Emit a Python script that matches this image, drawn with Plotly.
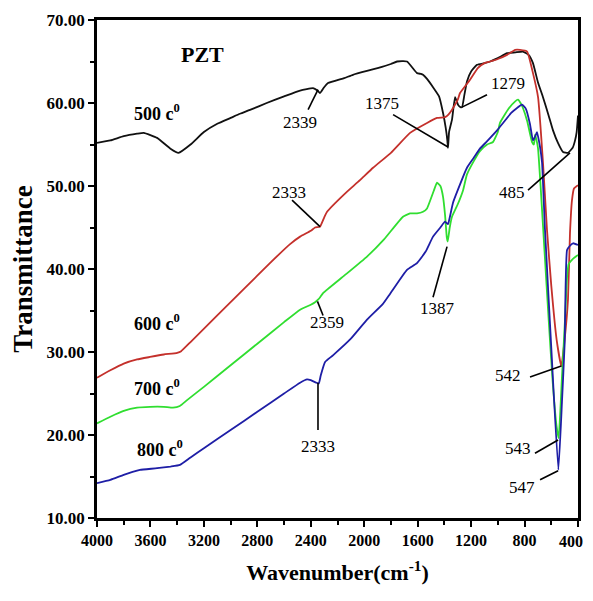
import plotly.graph_objects as go

# ---- data ----
wn_500 = [4000, 3900, 3800, 3700, 3650, 3550, 3450, 3390, 3300, 3200, 3100, 3000, 2930, 2850, 2730,
          2600, 2480, 2383, 2350, 2331, 2300, 2271, 2150, 2084, 1900, 1800, 1754, 1680, 1605, 1575,
          1560, 1530, 1485, 1440, 1410, 1390, 1378, 1373, 1365, 1343, 1320, 1298, 1280, 1268, 1250,
          1231, 1200, 1156, 1100, 1058, 1000, 931, 870, 812, 770, 737, 700, 662, 620, 587, 550,
          512, 475, 440, 422, 410, 400]
t_500 = [55.2, 55.5, 56.0, 56.3, 56.4, 55.8, 54.5, 54.0, 55.0, 56.5, 57.5, 58.2, 58.7, 59.2, 60.0,
         60.8, 61.5, 61.8, 61.5, 61.2, 61.9, 62.4, 63.0, 63.4, 64.2, 64.7, 65.0, 65.0, 63.6, 63.5,
         63.4, 62.9, 61.9, 60.8, 58.8, 57.0, 55.5, 54.6, 56.5, 58.0, 60.7, 59.8, 59.5, 59.5, 61.0,
         62.6, 63.8, 64.6, 64.8, 65.0, 65.4, 66.0, 66.1, 66.2, 65.8, 64.8, 62.5, 60.7, 58.5, 56.7, 55.2,
         54.1, 54.0, 54.6, 55.5, 56.5, 58.5]

wn_600 = [4000, 3900, 3800, 3700, 3603, 3500, 3400, 3370, 3300, 3100, 2900, 2700, 2555, 2480, 2400,
          2368, 2331, 2300, 2278, 2150, 2032, 1934, 1800, 1657, 1530, 1455, 1395, 1370, 1343, 1300,
          1283, 1208, 1150, 1100, 1058, 1000, 931, 870, 834, 781, 737, 699, 662, 632, 600, 560,
          525, 500, 475, 460, 445, 430, 400]
t_600 = [26.9, 27.8, 28.6, 29.1, 29.4, 29.7, 29.9, 30.1, 31.2, 34.4, 37.6, 40.8, 43.0, 43.9, 44.6,
         45.0, 45.1, 46.2, 46.9, 49.0, 50.7, 52.2, 54.0, 56.4, 57.6, 58.2, 58.3, 58.6, 59.2, 60.4,
         61.2, 62.8, 64.2, 64.8, 65.0, 65.3, 65.8, 66.4, 66.4, 66.2, 63.6, 60.7, 52.8, 44.7, 38.0, 31.5,
         28.3, 31.5, 36.3, 44.3, 48.3, 49.7, 50.1]

wn_700 = [4000, 3900, 3800, 3700, 3603, 3500, 3431, 3380, 3326, 3200, 3000, 2800, 2600, 2480, 2400,
          2368, 2346, 2330, 2308, 2150, 1979, 1850, 1710, 1657, 1605, 1560, 1530, 1480, 1455, 1430,
          1410, 1395, 1382, 1375, 1360, 1343, 1300, 1260, 1231, 1180, 1134, 1080, 1036, 1000, 984,
          920, 870, 849, 830, 812, 780, 744, 730, 721, 710, 699, 680, 650, 620, 590, 560, 545,
          520, 500, 482, 470, 440, 400]
t_700 = [21.4, 22.2, 22.9, 23.3, 23.4, 23.4, 23.3, 23.5, 24.2, 25.8, 28.4, 31.0, 33.6, 35.1, 35.7,
         36.0, 36.3, 36.6, 37.1, 39.2, 41.5, 43.6, 46.3, 46.7, 46.7, 46.9, 47.3, 49.4, 50.4, 50.0,
         48.7, 46.5, 43.8, 43.3, 45.0, 46.3, 47.8, 49.5, 51.4, 53.0, 54.2, 55.0, 55.3, 56.5, 57.6,
         59.3, 60.2, 60.4, 60.0, 59.4, 57.8, 55.3, 55.0, 56.2, 55.5, 54.5, 50.0, 42.0, 34.0, 26.5, 21.0, 19.6,
         27.0, 33.0, 39.0, 40.6, 41.2, 41.7]

wn_800 = [4000, 3900, 3800, 3700, 3678, 3550, 3450, 3379, 3300, 3200, 3000, 2800, 2600, 2480, 2428,
          2400, 2360, 2340, 2325, 2293, 2234, 2100, 1979, 1860, 1807, 1680, 1605, 1540, 1485, 1430,
          1395, 1373, 1360, 1335, 1300, 1231, 1180, 1134, 1080, 1006, 950, 900, 856, 819, 790, 760,
          737, 720, 707, 684, 669, 647, 600, 547, 520, 500, 482, 460, 437, 400]
t_800 = [14.2, 14.6, 15.2, 15.7, 15.8, 16.0, 16.2, 16.4, 17.3, 18.4, 20.6, 22.8, 25.0, 26.3, 26.7,
         26.6, 26.3, 26.2, 27.2, 28.8, 29.6, 31.6, 33.9, 35.8, 37.0, 39.9, 40.7, 42.1, 43.9, 45.0,
         45.7, 45.4, 46.2, 48.0, 49.5, 52.2, 53.4, 54.5, 55.4, 56.7, 57.8, 58.8, 59.4, 59.8, 59.3, 57.5,
         55.5, 56.0, 56.5, 54.7, 52.8, 44.7, 30.5, 15.8, 24.0, 31.0, 42.3, 42.8, 43.1, 42.9]

series = [
    ("500", wn_500, t_500, "#111111"),
    ("600", wn_600, t_600, "#c4302b"),
    ("700", wn_700, t_700, "#30de30"),
    ("800", wn_800, t_800, "#1e1ea6"),
]

# series labels: (text, wavenumber, transmittance)
series_labels = [
    ("500 c<sup>0</sup>", 3551, 58.9),
    ("600 c<sup>0</sup>", 3551, 33.6),
    ("700 c<sup>0</sup>", 3551, 25.7),
    ("800 c<sup>0</sup>", 3530, 18.4),
]

# peak labels: (text, text_x, text_y, line_x0, line_y0, line_x1, line_y1)
peak_labels = [
    ("2339", 2480, 57.6, 2420, 59.2, 2346, 61.6),
    ("1375", 1867, 60.0, 1784, 58.6, 1373, 54.7),
    ("1279", 924, 62.4, 1081, 61.0, 1268, 59.5),
    ("485", 894, 49.2, 774, 49.5, 460, 54.0),
    ("2333", 2560, 49.2, 2540, 48.3, 2331, 45.1),
    ("2359", 2278, 33.5, 2308, 34.4, 2350, 36.1),
    ("1387", 1448, 35.2, 1485, 36.6, 1380, 42.7),
    ("2333", 2346, 18.6, 2346, 20.6, 2346, 26.3),
    ("542", 924, 27.2, 759, 27.0, 525, 28.3),
    ("543", 849, 18.4, 722, 17.8, 549, 19.4),
    ("547", 819, 13.7, 684, 14.6, 549, 15.7),
]

x_ticks = [4000, 3600, 3200, 2800, 2400, 2000, 1600, 1200, 800, 400]
y_ticks = [10, 20, 30, 40, 50, 60, 70]

FONT = "Liberation Serif"
TICKFONT_X = dict(family=FONT, size=16, color="black", weight="bold")

fig = go.Figure()
for name, x, y, c in series:
    fig.add_trace(go.Scatter(x=x, y=y, mode="lines", name=name,
                             line=dict(color=c, width=1.8, shape="spline", smoothing=0.4),
                             showlegend=False))

for text, x, y in series_labels:
    fig.add_annotation(x=x, y=y, xref="x", yref="y", text=text, showarrow=False,
                       font=dict(family=FONT, size=18, color="black", weight="bold"))

fig.add_annotation(x=3207, y=65.8, xref="x", yref="y", text="PZT", showarrow=False,
                   font=dict(family=FONT, size=22, color="black", weight="bold"))

for text, tx, ty, x0, y0, x1, y1 in peak_labels:
    fig.add_annotation(x=tx, y=ty, xref="x", yref="y", text=text, showarrow=False,
                       font=dict(family=FONT, size=17, color="black"))
    fig.add_shape(type="line", xref="x", yref="y", x0=x0, y0=y0, x1=x1, y1=y1,
                  line=dict(color="black", width=1.6))

# the last x tick label sits at the page edge; draw it right-aligned so it stays visible
last_tick = x_ticks[-1]
fig.add_annotation(x=last_tick, y=0, xref="x", yref="paper", text=str(last_tick),
                   showarrow=False, xanchor="right", yanchor="middle", xshift=7, yshift=-23,
                   font=TICKFONT_X)

# the page body has an 8px default margin, so the figure is sized to fit the window
fig.update_layout(
    width=585, height=582,
    margin=dict(l=89, r=15, t=12, b=72, autoexpand=False),
    paper_bgcolor="white", plot_bgcolor="white",
    font=dict(family=FONT, color="black"),
)
fig.update_xaxes(
    range=[4000, 400], tickvals=x_ticks,
    ticktext=[str(v) if v != last_tick else "" for v in x_ticks],
    automargin=False,
    showgrid=False, zeroline=False, showline=True, linewidth=2.5, linecolor="black", mirror=True,
    ticks="outside", ticklen=6, tickwidth=2, tickcolor="black", ticklabeloverflow="allow",
    minor=dict(dtick=200, tick0=400, ticks="outside", ticklen=4, tickwidth=2, tickcolor="black"),
    tickfont=TICKFONT_X,
    title=dict(text="Wavenumber(cm<sup>-1</sup>)", standoff=17,
               font=dict(family=FONT, size=22, color="black", weight="bold")),
)
fig.update_yaxes(
    range=[10, 70], tickvals=y_ticks, ticktext=["%.2f" % v for v in y_ticks],
    automargin=False,
    showgrid=False, zeroline=False, showline=True, linewidth=2.5, linecolor="black", mirror=True,
    ticks="outside", ticklen=6, tickwidth=2, tickcolor="black",
    minor=dict(dtick=5, tick0=10, ticks="outside", ticklen=4, tickwidth=2, tickcolor="black"),
    tickfont=dict(family=FONT, size=17, color="black", weight="bold"),
    title=dict(text="Transmittance", standoff=14,
               font=dict(family=FONT, size=27, color="black", weight="bold")),
)

fig.write_html("out.html")
